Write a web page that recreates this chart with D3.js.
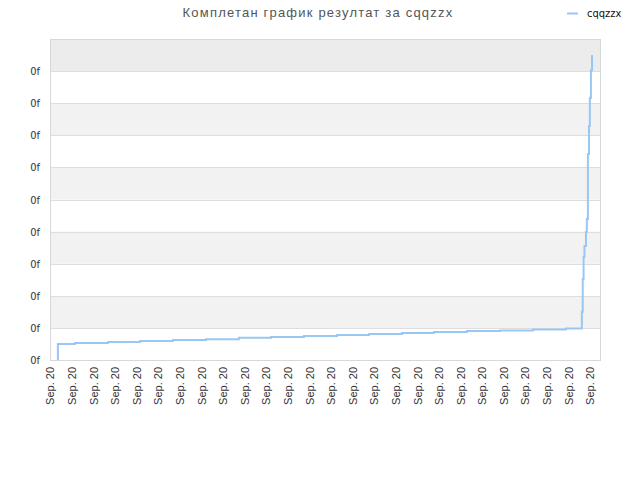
<!DOCTYPE html>
<html><head><meta charset="utf-8">
<script src="https://cdn.jsdelivr.net/npm/d3@7"></script>
<style>
body{margin:0;background:#fff;}
text{font-family:"Liberation Sans",Arial,sans-serif;}
</style></head>
<body><svg id="c" width="640" height="480"></svg>
<script>
const title = "Комплетан график резултат за cqqzzx";
const seriesName = "cqqzzx";
const xTickLabels = Array.from({length:26}, () => "Sep. 20");
const yTickValues = [0,1,2,3,4,5,6,7,8,9];
const yTickLabels = ["0f","0f","0f","0f","0f","0f","0f","0f","0f","0f"];
// x in tick units, y in grid units
const xs = [0.32,0.32,1.11,2.64,4.12,5.65,7.18,8.70,10.19,11.71,13.24,14.72,16.25,17.73,19.26,20.79,22.31,23.84,24.58,24.62,24.66,24.70,24.77,24.81,24.86,24.91,24.95,25.00,25.05];
const ys = [0,0.50,0.53,0.56,0.59,0.62,0.65,0.69,0.72,0.75,0.78,0.81,0.84,0.87,0.90,0.92,0.95,0.98,1.50,2.52,3.21,3.55,3.99,4.39,6.42,7.29,8.16,9.03,9.50];

const svg = d3.select("#c");
const L=51, R=600, T=40, B=360;
const x = d3.scaleLinear().domain([0, 25.42]).range([L, R]);
const y = d3.scaleLinear().domain([0, 9.97]).range([B, T]);

// bands
const bandEdges = yTickValues.concat([9.97]);
for (let i=0;i<bandEdges.length-1;i++){
  let fill = null;
  if (i===bandEdges.length-2) fill="#ececec";
  else if (i%2===1) fill="#f2f2f2";
  if (fill) svg.append("rect").attr("x",L).attr("width",R-L)
    .attr("y",y(bandEdges[i+1])).attr("height",y(bandEdges[i])-y(bandEdges[i+1])).attr("fill",fill);
}
// grid
svg.append("g").selectAll("line").data(yTickValues).join("line")
  .attr("x1",L).attr("x2",R).attr("y1",d=>Math.round(y(d))+0.5).attr("y2",d=>Math.round(y(d))+0.5)
  .attr("stroke","#dedede");
svg.append("rect").attr("x",L-0.5).attr("y",T-0.5).attr("width",R-L+1).attr("height",B-T+1)
  .attr("fill","none").attr("stroke","#d8d8d8");

// y axis
const yAxis = d3.axisLeft(y).tickValues(yTickValues).tickSize(0).tickPadding(11)
  .tickFormat((d,i)=>yTickLabels[i]);
const gy = svg.append("g").attr("transform",`translate(${L},0)`).call(yAxis);
gy.select(".domain").remove();
gy.selectAll("text").attr("fill","#333").style("font-size","11px").style("font-family","DejaVu Sans Condensed, DejaVu Sans");

// x axis
const xAxis = d3.axisBottom(x).tickValues(d3.range(xTickLabels.length)).tickSize(0).tickPadding(0)
  .tickFormat((d,i)=>xTickLabels[i]);
const gx = svg.append("g").attr("transform",`translate(0,${B})`).call(xAxis);
gx.select(".domain").remove();
gx.selectAll("text").attr("fill","#333").style("font-size","11px")
  .attr("transform","rotate(-90)").attr("text-anchor","end").attr("x",-7).attr("y",-1).attr("dy","0.35em");

// line
const pts = xs.map((v,i)=>[v, ys[i]]);
svg.append("path").datum(pts)
  .attr("d", d3.line().x(d=>x(d[0])).y(d=>y(d[1])).curve(d3.curveStepAfter))
  .attr("fill","none").attr("stroke","#99c7f3").attr("stroke-width",2);

// title
svg.append("text").attr("x",318).attr("y",17).attr("text-anchor","middle")
  .attr("fill","#555").style("font-size","13px").style("letter-spacing","1.2px").text(title);
// legend
svg.append("line").attr("x1",567).attr("x2",578).attr("y1",13.5).attr("y2",13.5)
  .attr("stroke","#99c7f3").attr("stroke-width",2);
svg.append("text").attr("x",587).attr("y",17).attr("fill","#111").style("font-size","11px")
  .style("font-family","DejaVu Sans Condensed, DejaVu Sans").text(seriesName);
</script></body></html>
